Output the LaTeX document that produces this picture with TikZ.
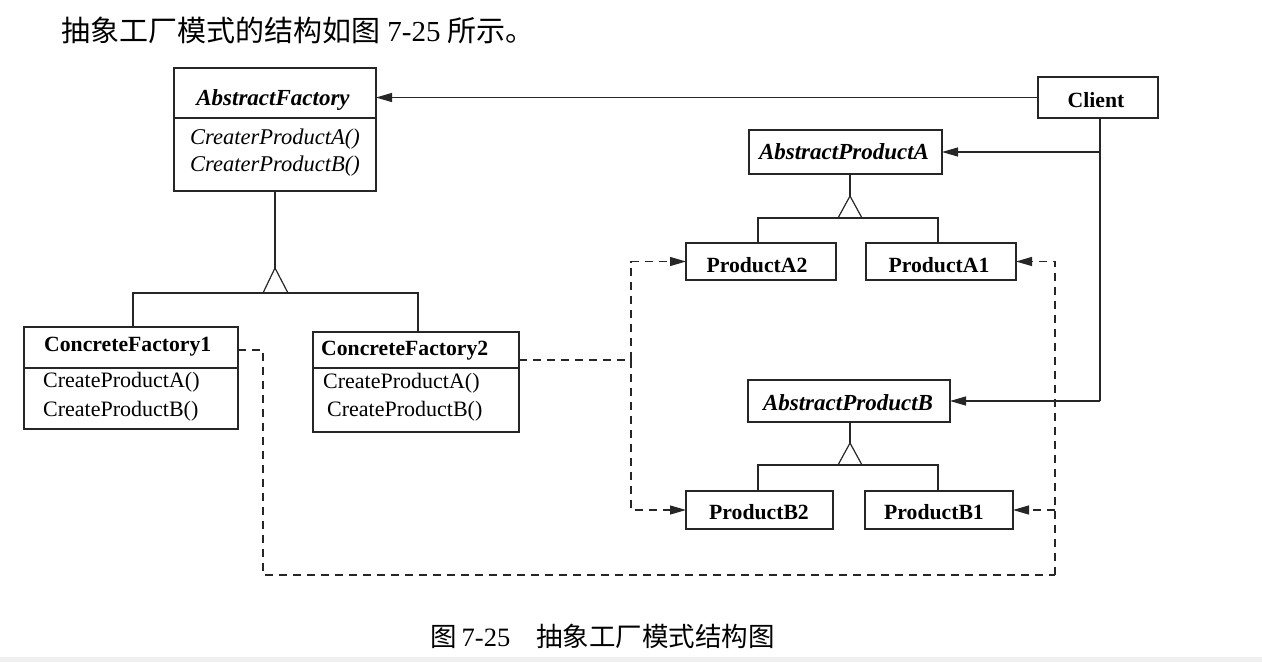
\documentclass[tikz,border=0pt]{standalone}
\usepackage{fontspec}
\setmainfont{Liberation Serif}
\newfontfamily\cjk{Noto Sans CJK SC}
\usetikzlibrary{arrows.meta}
\begin{document}
\begin{tikzpicture}[x=1pt,y=-1pt,
  box/.style={draw=black!85, line width=1.2pt, inner sep=0pt, outer sep=0pt, anchor=north west},
  ln/.style={draw=black!85, line width=1.2pt},
  dsh/.style={draw=black!85, line width=1.2pt, dash pattern=on 8pt off 6pt},
  arr/.style={-{Triangle[length=16pt,width=9pt]}},
  abst/.style={font=\fontsize{23}{26}\selectfont\bfseries\itshape, inner sep=0pt},
  meth/.style={font=\fontsize{22.5}{26}\selectfont\itshape, inner sep=0pt, anchor=west},
  cname/.style={font=\fontsize{21.7}{26}\selectfont\bfseries, inner sep=0pt},
  cmeth/.style={font=\fontsize{22}{26}\selectfont, inner sep=0pt, anchor=west},
  cjktext/.style={inner sep=0pt, anchor=west}
]
\useasboundingbox (0,0) rectangle (1262,662);
\fill[gray!12] (0,657) rectangle (1262,662);

% heading and caption
\node[cjktext, font=\fontsize{29}{33}\selectfont] (head) at (61,30) {{\cjk 抽象工厂模式的结构如图} 7-25 {\cjk 所示。}};
\node[cjktext, font=\fontsize{26.5}{30}\selectfont] (cap) at (430,636) {{\cjk 图}\hspace{5pt}7-25\hspace{26pt}{\cjk 抽象工厂模式结构图}};

% class boxes
\node[box, minimum width=202pt, minimum height=123pt] (af) at (174,68) {};
\node[box, minimum width=120pt, minimum height=41pt] (client) at (1038,77) {};
\node[box, minimum width=193pt, minimum height=44pt] (apa) at (749,130) {};
\node[box, minimum width=150pt, minimum height=37pt] (pa2) at (686,243) {};
\node[box, minimum width=150pt, minimum height=37pt] (pa1) at (866,243) {};
\node[box, minimum width=202pt, minimum height=42pt] (apb) at (748,380) {};
\node[box, minimum width=147pt, minimum height=38pt] (pb2) at (686,491) {};
\node[box, minimum width=148pt, minimum height=38pt] (pb1) at (865,491) {};
\node[box, minimum width=214pt, minimum height=102pt] (cf1) at (24,327) {};
\node[box, minimum width=206pt, minimum height=100pt] (cf2) at (313,332) {};

% compartments
\draw[ln] (af.west |- 0,118) -- (af.east |- 0,118);
\draw[ln] (cf1.west |- 0,368) -- (cf1.east |- 0,368);
\draw[ln] (cf2.west |- 0,368) -- (cf2.east |- 0,368);

% texts
\node[abst] (tAF) at (273,100) {AbstractFactory};
\node[meth] (mAF1) at (190,139) {CreaterProductA()};
\node[meth] (mAF2) at (190,166) {CreaterProductB()};
\node[cname] (tCl) at (1096,100) {Client};
\node[abst] (tAPA) at (844,152) {AbstractProductA};
\node[abst] (tAPB) at (848,403) {AbstractProductB};
\node[cname] (tPA2) at (757,265) {ProductA2};
\node[cname] (tPA1) at (939,265) {ProductA1};
\node[cname] (tPB2) at (759,512) {ProductB2};
\node[cname] (tPB1) at (934,512) {ProductB1};
\node[cname, anchor=west] (tCF1) at (44,347) {ConcreteFactory1};
\node[cmeth] (mCF1a) at (43,382) {CreateProductA()};
\node[cmeth] (mCF1b) at (43,411) {CreateProductB()};
\node[cname, anchor=west] (tCF2) at (321,351) {ConcreteFactory2};
\node[cmeth] (mCF2a) at (323,383) {CreateProductA()};
\node[cmeth] (mCF2b) at (327,411) {CreateProductB()};

% client associations
\draw[ln, arr] (client.west) -- (client.west -| af.east);
\coordinate (trunk) at (1100,118);
\draw[ln] (trunk) -- (trunk |- apb.east);
\draw[ln, arr] (trunk |- apa.east) -- (apa.east);
\draw[ln, arr] (trunk |- apb.east) -- (apb.east);

% inheritance AbstractFactory
\coordinate (t1) at (275,268);
\draw[ln] (t1 |- af.south) -- (t1);
\draw[ln, line join=miter] (263,293) -- (t1) -- (288,293);
\coordinate (h1l) at (133,293);
\coordinate (h1r) at (418,293);
\draw[ln] (h1l |- cf1.north) -- (h1l) -- (h1r) -- (h1r |- cf2.north);

% inheritance AbstractProductA
\coordinate (t2) at (850,196);
\draw[ln] (t2 |- apa.south) -- (t2);
\draw[ln, line join=miter] (838,218) -- (t2) -- (862,218);
\coordinate (h2l) at (758,218);
\coordinate (h2r) at (938,218);
\draw[ln] (h2l |- pa2.north) -- (h2l) -- (h2r) -- (h2r |- pa1.north);

% inheritance AbstractProductB
\coordinate (t3) at (850,443);
\draw[ln] (t3 |- apb.south) -- (t3);
\draw[ln, line join=miter] (838,465) -- (t3) -- (862,465);
\coordinate (h3l) at (758,465);
\coordinate (h3r) at (938,465);
\draw[ln] (h3l |- pb2.north) -- (h3l) -- (h3r) -- (h3r |- pb1.north);

% dependencies (dashed)
\coordinate (L) at (631,360);
\draw[dsh] (cf2.east |- L) -- (L);
\draw[dsh, arr] (L) -- (L |- pa2.west) -- (pa2.west);
\draw[dsh, arr] (L) -- (L |- pb2.west) -- (pb2.west);
\coordinate (R) at (1055,575);
\coordinate (B) at (263,350);
\draw[dsh, arr] (R) -- (R |- pa1.east) -- (pa1.east);
\draw[dsh, arr] (R |- pb1.east) -- (pb1.east);
\draw[dsh] (cf1.east |- B) -- (B) -- (B |- R) -- (R);
\end{tikzpicture}
\end{document}
